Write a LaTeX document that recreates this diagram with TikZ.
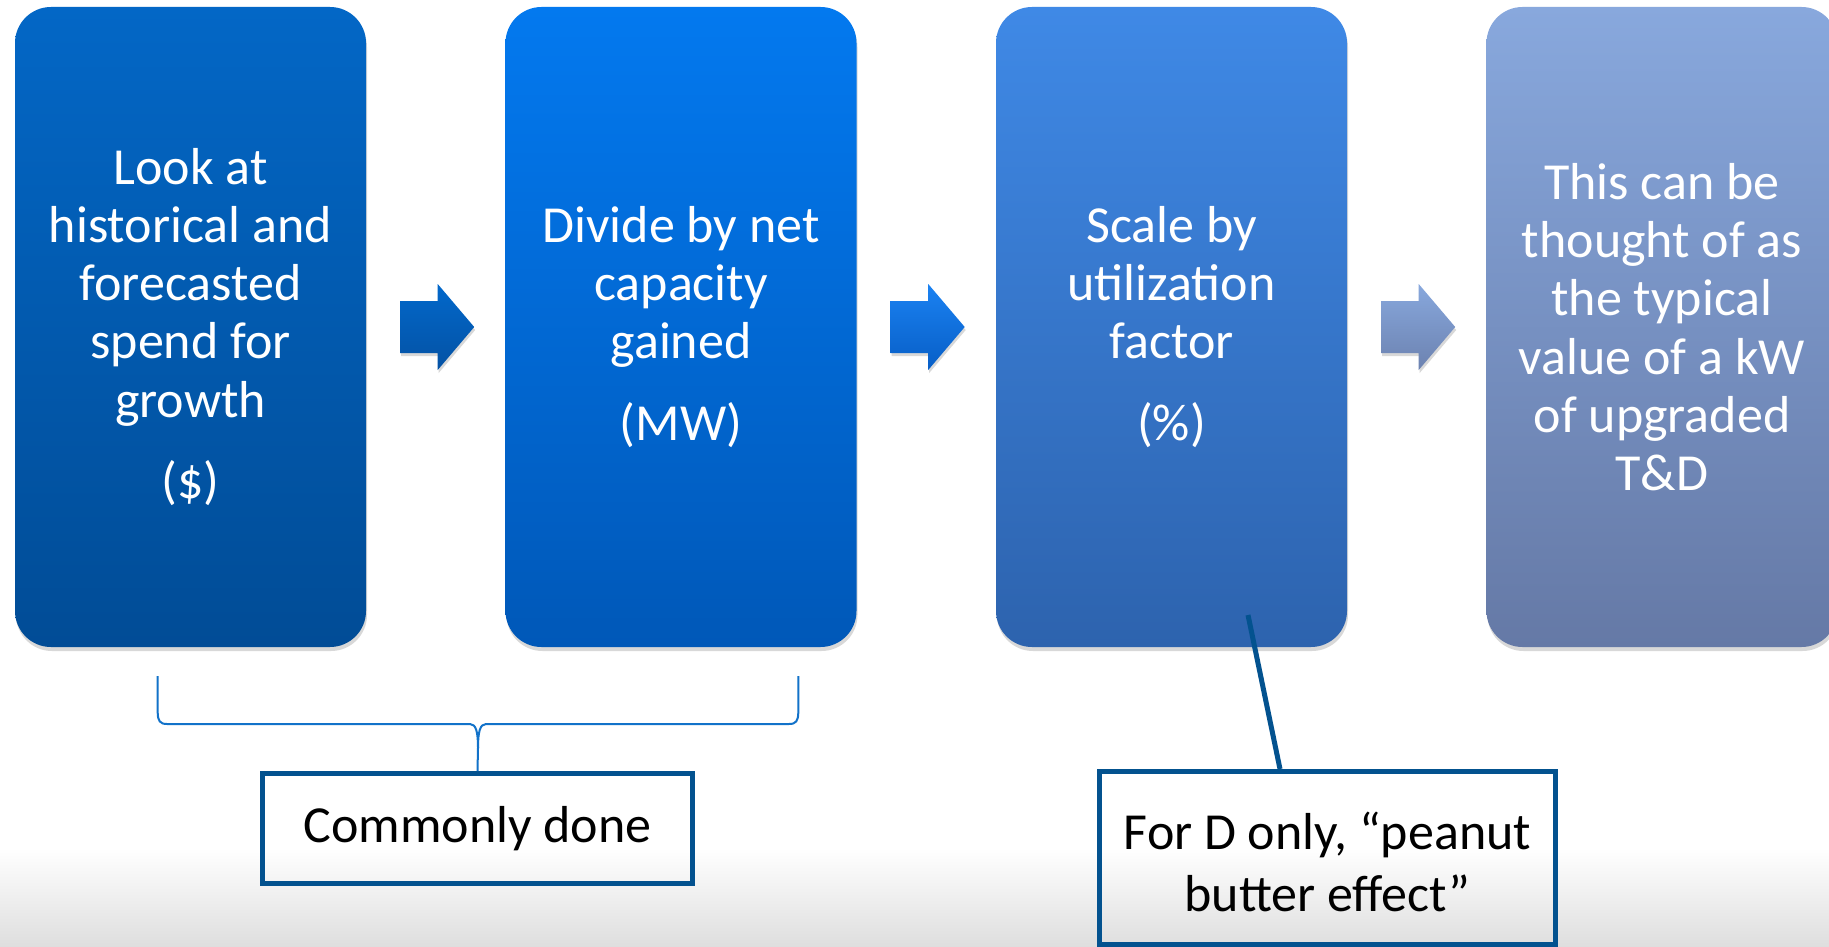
\documentclass[tikz,border=0pt]{standalone}
\usepackage{fontspec}
\setmainfont{Carlito}
\usetikzlibrary{shadows,calc}

% step colours (top / bottom of each gradient)
\definecolor{boxAtop}{HTML}{0367C6}
\definecolor{boxAbot}{HTML}{014C96}
\definecolor{boxBtop}{HTML}{0379EF}
\definecolor{boxBbot}{HTML}{0058B8}
\definecolor{boxCtop}{HTML}{3F89E6}
\definecolor{boxCbot}{HTML}{2D63AE}
\definecolor{boxDtop}{HTML}{88A8DD}
\definecolor{boxDbot}{HTML}{6579A6}
\definecolor{arrAtop}{HTML}{0268CB}
\definecolor{arrAbot}{HTML}{0452A4}
\definecolor{arrBtop}{HTML}{1B82F2}
\definecolor{arrBbot}{HTML}{075EC6}
\definecolor{arrCtop}{HTML}{88A8DD}
\definecolor{arrCbot}{HTML}{6C82B0}
\definecolor{noteborder}{HTML}{03528F}
\definecolor{bracecol}{HTML}{1272C9}

\begin{document}
\begin{tikzpicture}[x=1pt,y=-1pt,
  stepbox/.style={rounded corners=36pt, minimum width=351pt, minimum height=640pt,
    inner sep=0pt, align=center, text=white,
    font=\fontsize{52}{58.3}\selectfont,
    drop shadow={shadow xshift=1pt,shadow yshift=-4pt,opacity=.3}},
  notebox/.style={draw=noteborder, line width=5pt, inner sep=0pt, align=center},
  notetext/.style={align=center, font=\fontsize{52}{62}\selectfont, inner sep=0pt},
  flowarrow/.style={drop shadow={shadow xshift=1pt,shadow yshift=-3pt,opacity=.3}},
  brace/.style={draw=bracecol, line width=2pt},
  callout/.style={draw=noteborder, line width=5pt}]

\useasboundingbox (0,0) rectangle (1829,947);
\clip (0,0) rectangle (1829,947);

% page background with a soft grey floor
\fill[white] (0,0) rectangle (1829,947);
\fill[top color=white, bottom color=black!13] (0,848) rectangle (1829,947);

% the four steps
\node[stepbox, top color=boxAtop, bottom color=boxAbot] (b1) at (190.5,327)
  {Look at\\historical and\\forecasted\\spend for\\growth\\[23.4pt](\$)};
\node[stepbox, top color=boxBtop, bottom color=boxBbot] (b2) at (681,327)
  {Divide by net\\capacity\\gained\\[23.4pt](MW)};
\node[stepbox, top color=boxCtop, bottom color=boxCbot] (b3) at (1171.5,327)
  {Scale by\\utilization\\factor\\[23.4pt](\%)};
\node[stepbox, top color=boxDtop, bottom color=boxDbot] (b4) at (1662,327)
  {This can be\\thought of as\\the typical\\value of a kW\\of upgraded\\T\&D};

% block arrows between the steps
\foreach \src/\ct/\cb in {b1/arrAtop/arrAbot, b2/arrBtop/arrBbot, b3/arrCtop/arrCbot} {
  \path[flowarrow, top color=\ct, bottom color=\cb, shift={($(\src.east)+(34,0)$)}]
    (0,-26) -- (37.5,-26) -- (37.5,-43) -- (74,0) -- (37.5,43) -- (37.5,26) -- (0,26) -- cycle;
}

% note boxes
\node[notebox, notetext, minimum width=430pt, minimum height=110pt] (c1) at (477.5,828.5) {Commonly done};
\node[notebox, minimum width=456pt, minimum height=173pt] (f1) at (1327.5,858) {};
\node[notetext] (f1t) at ($(f1.center)+(0,4)$) {For D only, “peanut\\butter effect”};

% brace grouping the first two steps
\coordinate (brL) at (157.7,676);
\coordinate (brR) at (798.3,676);
\draw[brace] (brL) -- (157.7,712) .. controls (157.7,721) and (160,724) .. (167,724)
  -- (470,724) .. controls (476,724) and (478,732) .. (478,748) -- (c1.north);
\draw[brace] (brR) -- (798.3,712) .. controls (798.3,721) and (796,724) .. (789,724)
  -- (486,724) .. controls (480,724) and (478,732) .. (478,748);

% callout from the utilisation step
\coordinate (cl) at (1248,615);
\draw[callout] (cl) -- ([xshift=-47.5pt]f1.north);

\end{tikzpicture}
\end{document}
